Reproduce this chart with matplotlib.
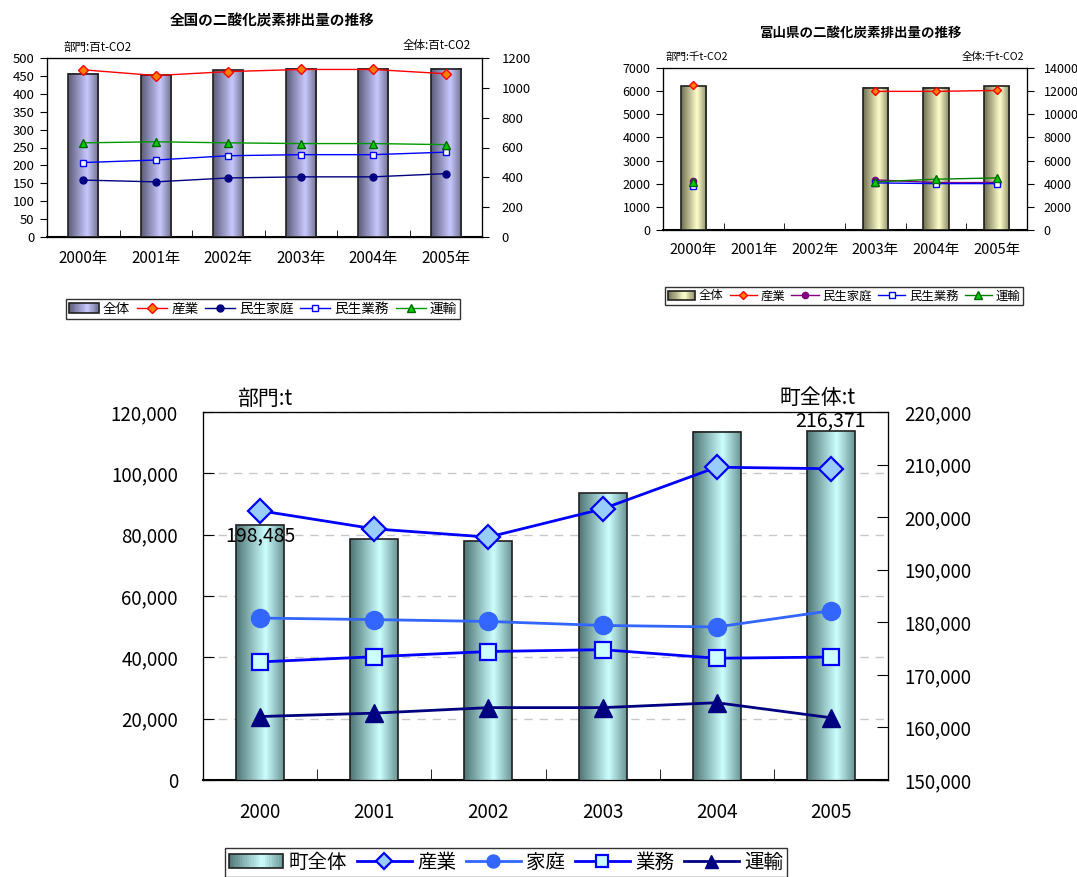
import numpy as np
import matplotlib
matplotlib.use("Agg")
import matplotlib.pyplot as plt
from matplotlib.colors import LinearSegmentedColormap
from matplotlib.patches import Patch, Rectangle
from matplotlib.legend_handler import HandlerBase
from matplotlib.ticker import StrMethodFormatter

plt.rcParams['font.family'] = ['Noto Sans CJK JP', 'DejaVu Sans']

nan = np.nan

# 全国 (百t-CO2)
nat_years = ['2000年', '2001年', '2002年', '2003年', '2004年', '2005年']
nat_total = [1095, 1086, 1117, 1128, 1128, 1128]
nat_industry = [467, 451, 462, 468, 468, 456]
nat_home = [159, 154, 165, 168, 168, 177]
nat_business = [208, 215, 227, 230, 230, 237]
nat_transport = [263, 266, 263, 261, 261, 258]

# 富山県 (千t-CO2)  2001, 2002 はデータなし
toy_years = ['2000年', '2001年', '2002年', '2003年', '2004年', '2005年']
toy_total = [12410, nan, nan, 12300, 12300, 12410]
toy_industry = [6264, nan, nan, 5990, 5990, 6030]
toy_home = [2120, nan, nan, 2165, 2050, 2050]
toy_business = [1920, nan, nan, 2035, 2005, 2005]
toy_transport = [2065, nan, nan, 2080, 2195, 2250]

# 町 (t)
town_years = ['2000', '2001', '2002', '2003', '2004', '2005']
town_total = [198485, 195750, 195440, 204500, 216250, 216371]
town_industry = [87800, 81900, 79200, 88400, 102000, 101500]
town_home = [52800, 52300, 51700, 50400, 49900, 55200]
town_business = [38500, 40200, 41900, 42500, 39700, 40100]
town_transport = [20700, 21800, 23600, 23600, 25200, 20300]


def make_cmap(edge_l, mid, edge_r):
    return LinearSegmentedColormap.from_list(
        'g', [(0, edge_l), (0.62, mid), (1, edge_r)])


class HandlerGradient(HandlerBase):
    # 凡例の棒アイコンもグラデーションで描く
    def __init__(self, cmap, ec):
        super().__init__()
        self.cmap = cmap
        self.ec = ec

    def create_artists(self, legend, orig_handle, xdescent, ydescent,
                       width, height, fontsize, trans):
        n = 24
        arts = []
        for i in range(n):
            r = Rectangle((-xdescent + width * i / n, -ydescent), width / n + 0.3,
                          height, facecolor=self.cmap((i + 0.5) / n),
                          edgecolor='none', transform=trans)
            arts.append(r)
        arts.append(Rectangle((-xdescent, -ydescent), width, height,
                              facecolor='none', edgecolor=self.ec, lw=1.2,
                              transform=trans))
        return arts


def gradient_bars(ax, bars, cmap):
    grad = np.linspace(0, 1, 256).reshape(1, -1)
    for b in bars:
        h = b.get_height()
        if not np.isfinite(h) or h == 0:
            continue
        x0, y0, w = b.get_x(), b.get_y(), b.get_width()
        ax.imshow(grad, extent=(x0, x0 + w, y0, y0 + h), aspect='auto',
                  cmap=cmap, zorder=2, interpolation='bicubic')
        b.set_facecolor('none')
        b.set_zorder(3)


def chart(rect, cats, total, series, ylim_l, ystep_l, ylim_r, ystep_r,
          bar_cmap, bar_ec, fs, xfs, pads, grid=False, tick_dir='in'):
    ax = fig.add_axes(rect)          # 左軸 (部門)
    axb = ax.twinx()                 # 右軸 (全体) 棒グラフ
    axl = ax.twinx()                 # 折れ線 (左軸と同じ目盛)
    x = np.arange(len(cats))

    bars = axb.bar(x, total, width=0.42, edgecolor=bar_ec, linewidth=1.2)
    gradient_bars(axb, bars, bar_cmap)
    axb.set_ylim(*ylim_r)
    axb.set_yticks(np.arange(ylim_r[0], ylim_r[1] + 1, ystep_r))

    handles = []
    for s in series:
        ln, = axl.plot(x, s['y'], color=s['c'], lw=s['lw'], marker=s['m'],
                       ms=s['ms'], mfc=s['mfc'], mec=s['mec'],
                       mew=s.get('mew', 1.0), label=s['label'])
        handles.append(ln)

    for a in (ax, axl):
        a.set_ylim(*ylim_l)
    ax.set_yticks(np.arange(ylim_l[0], ylim_l[1] + 1, ystep_l))
    axl.set_yticks([])
    for a in (ax, axb, axl):
        a.set_xlim(-0.5, len(cats) - 0.5)
    ax.set_xticks(x)
    ax.set_xticklabels(cats)
    ax.set_xticks(x[:-1] + 0.5, minor=True)
    ax.tick_params(axis='x', which='major', length=0, labelsize=xfs,
                   pad=pads[2])
    ax.tick_params(axis='x', which='minor', length=5, direction='in')
    ax.tick_params(axis='y', direction=tick_dir, length=5, labelsize=fs,
                   pad=pads[0])
    axb.tick_params(axis='y', direction=tick_dir, length=5, labelsize=fs,
                    pad=pads[1])
    if grid:
        ax.yaxis.grid(True, color='#c8c8c8', ls=(0, (6, 5)), lw=1)
    for a in (ax, axb, axl):
        for sp in a.spines.values():
            sp.set_color('black')
    ax.spines['bottom'].set_linewidth(1.5)
    return ax, axb, axl, handles, bars


fig = plt.figure(figsize=(10.77, 8.77), dpi=100)
W, H = 1077, 877


def frect(l, t, r, b):
    return [l / W, 1 - b / H, (r - l) / W, (b - t) / H]


def legend(handles, labels, cmap, anchor, loc, fs, hl, ms_scale=1.0):
    bar_handle = Patch()
    return fig.legend([bar_handle] + handles, labels,
                      handler_map={bar_handle: HandlerGradient(cmap, '#202020')},
                      loc=loc, bbox_to_anchor=anchor, ncol=5, fontsize=fs,
                      frameon=True, fancybox=False, edgecolor='black',
                      handlelength=hl, handletextpad=0.3, columnspacing=0.5,
                      borderpad=0.2, borderaxespad=0, markerscale=ms_scale)


# ---- 全国 ----
purple = make_cmap('#5a5a78', '#c8c8ff', '#6e6e8c')
nat_series = [
    dict(y=nat_industry, c='#ff0000', lw=1, m='D', ms=5, mfc='#ff8000', mec='#ff0000', label='産業'),
    dict(y=nat_home, c='#000080', lw=1, m='o', ms=5, mfc='#000080', mec='#000080', label='民生家庭'),
    dict(y=nat_business, c='#0000ff', lw=1, m='s', ms=5, mfc='white', mec='#0000ff', label='民生業務'),
    dict(y=nat_transport, c='#009900', lw=1, m='^', ms=6, mfc='#00cc00', mec='#006600', label='運輸'),
]
ax1, axb1, _, h1, b1 = chart(frect(47, 58, 482, 237), nat_years, nat_total, nat_series,
                             (0, 500), 50, (0, 1200), 200, purple, '#202020',
                             9.5, 11, (4, 9, 9), tick_dir='out')
fig.text(272 / W, 1 - 20 / H, '全国の二酸化炭素排出量の推移', ha='center', va='center',
         fontsize=10.5, fontweight='bold')
fig.text(64 / W, 1 - 47 / H, '部門:百t-CO2', ha='left', va='center', fontsize=8.3)
fig.text(471 / W, 1 - 46 / H, '全体:百t-CO2', ha='right', va='center', fontsize=8.3)
legend(h1, ['全体'] + [h.get_label() for h in h1], purple,
       (263 / W, 1 - 309 / H), 'center', 9.8, 2.2)

# ---- 富山県 ----
olive = make_cmap('#6e6e50', '#ffffcc', '#8a8a66')
toy_series = [
    dict(y=toy_industry, c='#ff0000', lw=1, m='D', ms=4.5, mfc='#ff8000', mec='#ff0000', label='産業'),
    dict(y=toy_home, c='#800080', lw=1, m='o', ms=4.5, mfc='#800080', mec='#800080', label='民生家庭'),
    dict(y=toy_business, c='#0000ff', lw=1, m='s', ms=4.5, mfc='white', mec='#0000ff', label='民生業務'),
    dict(y=toy_transport, c='#008000', lw=1, m='^', ms=5.5, mfc='#00cc00', mec='#006600', label='運輸'),
]
ax2, axb2, _, h2, b2 = chart(frect(663, 68, 1027, 230), toy_years, toy_total, toy_series,
                             (0, 7000), 1000, (0, 14000), 2000, olive, '#202020',
                             9, 10.5, (4, 7, 9), tick_dir='out')
fig.text(860 / W, 1 - 33 / H, '富山県の二酸化炭素排出量の推移', ha='center', va='center',
         fontsize=9.7, fontweight='bold')
fig.text(666 / W, 1 - 57 / H, '部門:千t-CO2', ha='left', va='center', fontsize=7.6)
fig.text(1024 / W, 1 - 57 / H, '全体:千t-CO2', ha='right', va='center', fontsize=7.6)
legend(h2, ['全体'] + [h.get_label() for h in h2], olive,
       (844 / W, 1 - 296 / H), 'center', 8.9, 2.2)

# ---- 町 ----
teal = make_cmap('#4e7474', '#ccffff', '#6a9494')
town_series = [
    dict(y=town_industry, c='#0000ff', lw=2, m='D', ms=12, mfc='#99ccff', mec='#0000ff', mew=1.6, label='産業'),
    dict(y=town_home, c='#3366ff', lw=2, m='o', ms=13, mfc='#3366ff', mec='#3366ff', label='家庭'),
    dict(y=town_business, c='#0000ff', lw=2, m='s', ms=12, mfc='#ccffff', mec='#0000ff', mew=1.6, label='業務'),
    dict(y=town_transport, c='#000080', lw=2, m='^', ms=13, mfc='#000080', mec='#000080', label='運輸'),
]
ax3, axb3, axl3, h3, b3 = chart(frect(203, 412, 888, 780), town_years, town_total, town_series,
                                (0, 120000), 20000, (150000, 220000), 10000, teal, '#202020',
                                13.5, 13.5, (18, 12, 16), grid=True)
ax3.yaxis.set_major_formatter(StrMethodFormatter('{x:,.0f}'))
axb3.yaxis.set_major_formatter(StrMethodFormatter('{x:,.0f}'))
ax3.tick_params(axis='y', length=8)
axb3.tick_params(axis='y', length=8)
ax3.tick_params(axis='x', which='minor', length=8)

# 両端の棒だけ値ラベル
for i, va in ((0, 'top'), (len(town_total) - 1, 'bottom')):
    b = b3[i]
    t = axb3.text(b.get_x() + b.get_width() / 2, town_total[i], f'{town_total[i]:,}',
                  ha='center', va=va, fontsize=14, zorder=6)
    t.set_clip_on(False)

fig.text(237 / W, 1 - 399 / H, '部門:t', ha='left', va='center', fontsize=15)
fig.text(856 / W, 1 - 398 / H, '町全体:t', ha='right', va='center', fontsize=15)
legend(h3, ['町全体'] + [h.get_label() for h in h3], teal,
       (506 / W, 1 - 848 / H), 'upper center', 14, 2.8, ms_scale=0.72)

fig.savefig('out.png', dpi=100)
